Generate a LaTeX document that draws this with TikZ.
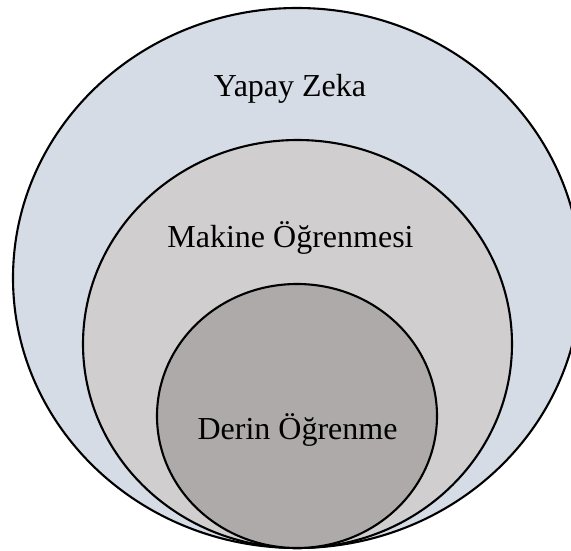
\documentclass[tikz,border=0pt]{standalone}
\usepackage{fontspec}
\setmainfont{Liberation Serif}
\usetikzlibrary{shapes.geometric}
\definecolor{aiblue}{HTML}{D6DCE5}
\definecolor{mlgray}{HTML}{D0CECE}
\definecolor{dlgray}{HTML}{AEAAAA}
\tikzset{
  field/.style={ellipse, draw=black, line width=2.1pt, inner sep=0pt},
  label/.style={font=\fontsize{32}{38}\selectfont, anchor=base, inner sep=0pt}
}
\begin{document}
\begin{tikzpicture}[x=1pt, y=-1pt]
  \useasboundingbox (0,0) rectangle (571,551);
  \clip (0,0) rectangle (571,551);
  % nested fields, all touching at the bottom
  \node[field, fill=aiblue, minimum width=568pt, minimum height=540pt] (ai) at (297,278) {};
  \node[field, fill=mlgray, minimum width=429pt, minimum height=408pt] (ml) at (297.5,344) {};
  \node[field, fill=dlgray, minimum width=280pt, minimum height=264pt] (dl) at (297,416) {};
  % field names
  \node[label] (aitext) at (290,97) {Yapay Zeka};
  \node[label] (mltext) at (290.5,247) {Makine Öğrenmesi};
  \node[label] (dltext) at (297.5,439) {Derin Öğrenme};
\end{tikzpicture}
\end{document}
